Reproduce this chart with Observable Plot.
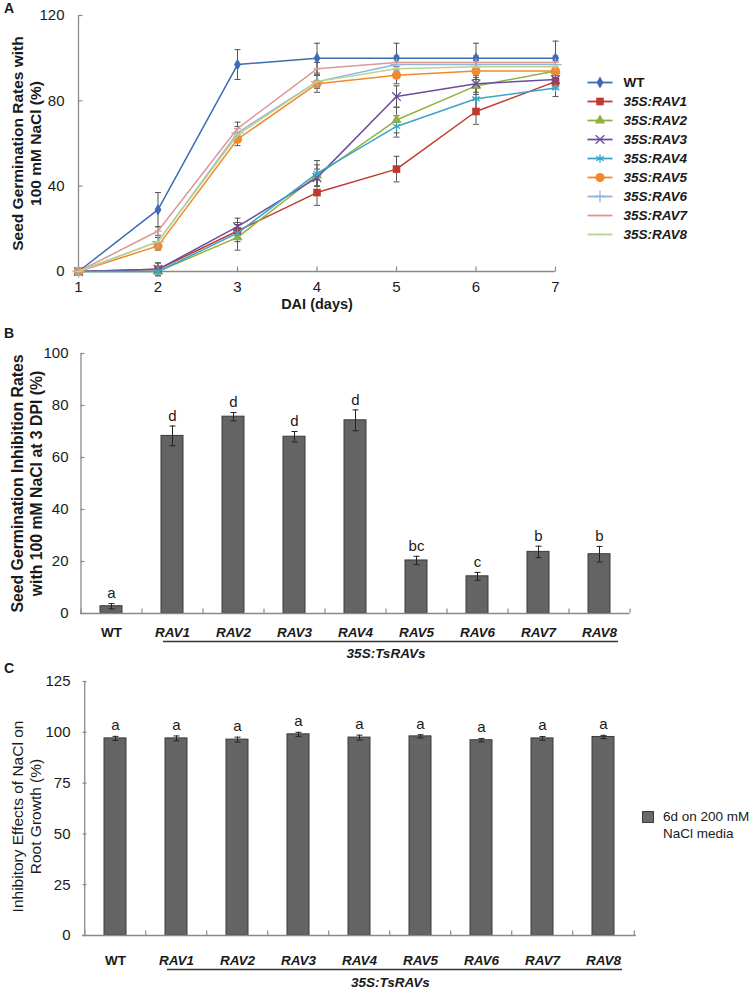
<!DOCTYPE html>
<html><head><meta charset="utf-8">
<script src="https://cdn.jsdelivr.net/npm/d3@7"></script>
<script src="https://cdn.jsdelivr.net/npm/@observablehq/plot@0.6"></script>
<style>
body{margin:0;background:#fff;font-family:"Liberation Sans",Arial,sans-serif;color:#1a1a1a;}
#root{position:relative;width:750px;height:990px;overflow:hidden;background:#fff;}
.panel{position:absolute;}
.letter{position:absolute;font-weight:bold;font-size:14px;}
.cleg{position:absolute;font-size:13.5px;line-height:17px;}
.cleg .sw{position:absolute;left:-21px;top:3px;width:10px;height:10px;background:#6a6a6a;border:1px solid #3a3a3a;}
</style></head><body><div id="root"></div>
<script>
// ---------- Panel A data ----------
const days = [1, 2, 3, 4, 5, 6, 7];
const seriesNames = ["WT", "35S:RAV1", "35S:RAV2", "35S:RAV3", "35S:RAV4", "35S:RAV5", "35S:RAV6", "35S:RAV7", "35S:RAV8"];
const valWT   = [0, 29, 97, 100, 100, 100, 100];
const valRAV1 = [0, 1, 19, 37, 48, 75, 89];
const valRAV2 = [0, 0, 16, 45, 71, 87, 94];
const valRAV3 = [0, 1, 21, 44, 82, 88, 90];
const valRAV4 = [0, 0, 18, 46, 68, 81, 86];
const valRAV5 = [0, 12, 62, 88, 92, 94, 94];
const valRAV6 = [0, 14, 65, 89, 97, 97, 97];
const valRAV7 = [0, 19, 67, 95, 98, 98, 98];
const valRAV8 = [0, 14, 64, 89, 95, 96, 96];
const errWT   = [0, 8, 7, 7, 7, 7, 8];
const errRAV1 = [0, 3, 4, 6, 6, 6, 3];
const errRAV2 = [0, 1, 6, 5, 6, 4, 3];
const errRAV3 = [0, 3, 4, 4, 5, 4, 3];
const errRAV4 = [0, 1, 4, 6, 5, 5, 4];
const errRAV5 = [0, 2, 3, 4, 4, 4, 3];
const errRAV6 = [0, 2, 3, 3, 3, 3, 3];
const errRAV7 = [0, 2, 3, 3, 3, 3, 3];
const errRAV8 = [0, 2, 3, 3, 3, 3, 3];
const yTicksA = [0, 40, 80, 120];

// ---------- Panel B data ----------
const categories = ["WT", "RAV1", "RAV2", "RAV3", "RAV4", "RAV5", "RAV6", "RAV7", "RAV8"];
const inhibB = [2.8, 68.3, 75.7, 68.0, 74.3, 20.4, 14.3, 23.7, 22.8];
const errB   = [1.0, 3.8, 1.6, 2.0, 4.0, 1.6, 1.5, 2.2, 3.0];
const lettersB = ["a", "d", "d", "d", "d", "bc", "c", "b", "b"];
const yTicksB = [0, 20, 40, 60, 80, 100];

// ---------- Panel C data ----------
const rootC = [97.0, 97.0, 96.4, 99.0, 97.4, 98.0, 96.1, 97.0, 97.7];
const errC  = [1.0, 1.2, 1.2, 1.0, 1.2, 0.8, 0.8, 0.9, 0.8];
const lettersC = ["a", "a", "a", "a", "a", "a", "a", "a", "a"];
const yTicksC = [0, 25, 50, 75, 100, 125];
const groupLabel = "35S:TsRAVs";

// ---------- styling ----------
const FONT = "Liberation Sans, Arial, sans-serif";
const AXIS = "#8a8a8a";
const colors = ["#3c6cb4", "#c0392f", "#8fb23f", "#6d4c9f", "#38a6c6", "#f28a2a", "#94b3de", "#dc9896", "#b9d48f"];
const dash = {draw(ctx) { ctx.moveTo(-3.5, 0); ctx.lineTo(3.5, 0); }};
const cap = {draw(ctx) { ctx.moveTo(-3, 0); ctx.lineTo(3, 0); }};
const tickRight = {draw(ctx) { ctx.moveTo(0, 0); ctx.lineTo(4, 0); }};
const tickUp = {draw(ctx) { ctx.moveTo(0, 0); ctx.lineTo(0, -5); }};
const markerSpec = [
  {symbol: "diamond", filled: true, r: 3.6},
  {symbol: "square", filled: true, r: 4.3},
  {symbol: "triangle", filled: true, r: 3.8},
  {symbol: "times", filled: false, r: 4},
  {symbol: "asterisk", filled: false, r: 4},
  {symbol: "circle", filled: true, r: 4.6},
  {symbol: "plus", filled: false, r: 4},
  {symbol: dash, filled: false, r: 3},
  {symbol: dash, filled: false, r: 3}
];
const allVals = [valWT, valRAV1, valRAV2, valRAV3, valRAV4, valRAV5, valRAV6, valRAV7, valRAV8];
const allErrs = [errWT, errRAV1, errRAV2, errRAV3, errRAV4, errRAV5, errRAV6, errRAV7, errRAV8];

const root = document.getElementById("root");
function place(el, left, top) {
  el.classList.add("panel");
  el.style.left = left + "px";
  el.style.top = top + "px";
  root.appendChild(el);
}
function letter(t, left, top) {
  const d = document.createElement("div");
  d.className = "letter"; d.textContent = t;
  d.style.left = left + "px"; d.style.top = top + "px";
  root.appendChild(d);
}

// ---------- Panel A ----------
const seriesMarks = [];
seriesNames.forEach((name, s) => {
  const rows = days.map((d, i) => ({day: d, value: allVals[s][i], err: allErrs[s][i]}));
  const withErr = rows.filter(r => r.err > 0);
  seriesMarks.push(
    Plot.ruleX(withErr, {x: "day", y1: r => r.value - r.err, y2: r => r.value + r.err, stroke: "#555", strokeWidth: 1}),
    Plot.dot(withErr, {x: "day", y: r => r.value - r.err, symbol: cap, stroke: "#555", strokeWidth: 1}),
    Plot.dot(withErr, {x: "day", y: r => r.value + r.err, symbol: cap, stroke: "#555", strokeWidth: 1})
  );
});
seriesNames.forEach((name, s) => {
  const rows = days.map((d, i) => ({day: d, value: allVals[s][i]}));
  const m = markerSpec[s];
  seriesMarks.push(
    Plot.line(rows, {x: "day", y: "value", stroke: colors[s], strokeWidth: 1.5}),
    m.filled
      ? Plot.dot(rows, {x: "day", y: "value", symbol: m.symbol, r: m.r, fill: colors[s]})
      : Plot.dot(rows, {x: "day", y: "value", symbol: m.symbol, r: m.r, stroke: colors[s], strokeWidth: 1.3})
  );
});

const plotA = Plot.plot({
  width: 565, height: 320,
  marginLeft: 78, marginRight: 10, marginTop: 15, marginBottom: 49,
  style: {fontFamily: FONT, fontSize: "15px", color: "#1a1a1a", background: "transparent"},
  x: {domain: [1, 7]},
  y: {domain: [0, 120]},
  marks: [
    Plot.axisX({ticks: days, tickFormat: "d", tickSize: 0, tickPadding: 10, label: null, fontSize: 15}),
    Plot.axisY({ticks: yTicksA, tickFormat: "d", tickSize: 0, tickPadding: 14, label: null, fontSize: 15}),
    Plot.ruleY([0], {stroke: AXIS, strokeWidth: 1.3}),
    Plot.ruleX([1], {stroke: AXIS, strokeWidth: 1.3}),
    Plot.dot(yTicksA, {y: d => d, frameAnchor: "left", symbol: tickRight, stroke: AXIS, strokeWidth: 1.2}),
    Plot.dot(days, {x: d => d, frameAnchor: "bottom", symbol: tickUp, stroke: AXIS, strokeWidth: 1.2}),
    ...seriesMarks,
    Plot.text(["DAI (days)"], {text: d => d, frameAnchor: "bottom", lineAnchor: "middle", textAnchor: "middle", dy: 33, fontWeight: "bold", fontSize: 14.5}),
    Plot.text(["Seed Germination Rates with\n100 mM NaCl (%)"], {text: d => d, frameAnchor: "left", textAnchor: "middle", lineAnchor: "middle", rotate: -90, dx: -52, fontWeight: "bold", fontSize: 15.5, lineHeight: 1.17})
  ]
});
place(plotA, 0, 0);

// legend A
const legendMarks = [];
seriesNames.forEach((name, s) => {
  const m = markerSpec[s];
  legendMarks.push(
    Plot.link([name], {x1: () => 0, x2: () => 1, y1: d => d, y2: d => d, stroke: colors[s], strokeWidth: 1.8}),
    m.filled
      ? Plot.dot([name], {x: () => 0.5, y: d => d, symbol: m.symbol, r: m.r, fill: colors[s]})
      : Plot.dot([name], {x: () => 0.5, y: d => d, symbol: m.symbol, r: m.r, stroke: colors[s], strokeWidth: 1.3})
  );
});
const legendA = Plot.plot({
  width: 170, height: 320, margin: 0,
  style: {fontFamily: FONT, fontSize: "13px", color: "#1a1a1a", background: "transparent"},
  x: {domain: [0, 1], range: [7, 32], axis: null},
  y: {type: "point", domain: seriesNames, range: [70, 245], axis: null},
  marks: [
    ...legendMarks,
    Plot.text(seriesNames.filter(n => n === "WT"), {x: () => 1, y: d => d, text: d => d, dx: 11, textAnchor: "start", fontWeight: "bold", fontSize: 13.5}),
    Plot.text(seriesNames.filter(n => n !== "WT"), {x: () => 1, y: d => d, text: d => d, dx: 11, textAnchor: "start", fontWeight: "bold", fontStyle: "italic", fontSize: 13.5})
  ]
});
place(legendA, 580, 0);

// ---------- bar panels ----------
function barPanel({values, errs, letters, yTicks, yMax, width, height, marginLeft, marginRight, marginTop, marginBottom, label, labelBold, labelSize, labelDx, labelDy, catDy, lineDy, groupDy, letterDy}) {
  const rows = categories.map((c, i) => ({cat: c, value: values[i], err: errs[i], letter: letters[i]}));
  const step = (width - marginLeft - marginRight) / categories.length;
  const bottomText = {frameAnchor: "bottom", lineAnchor: "middle", textAnchor: "middle"};
  return Plot.plot({
    width, height, marginLeft, marginRight, marginTop, marginBottom,
    style: {fontFamily: FONT, fontSize: "15px", color: "#1a1a1a", background: "transparent"},
    x: {type: "band", domain: categories, paddingInner: 0.64, paddingOuter: 0.32, axis: null},
    y: {domain: [0, yMax]},
    marks: [
      Plot.axisY({ticks: yTicks, tickFormat: "d", tickSize: 0, tickPadding: 12, label: null, fontSize: 15}),
      Plot.barY(rows, {x: "cat", y: "value", fill: "#646464", stroke: "#3a3a3a", strokeWidth: 1}),
      Plot.ruleX(rows, {x: "cat", y1: r => r.value - r.err, y2: r => r.value + r.err, stroke: "#222", strokeWidth: 1}),
      Plot.dot(rows, {x: "cat", y: r => r.value - r.err, symbol: cap, stroke: "#222", strokeWidth: 1}),
      Plot.dot(rows, {x: "cat", y: r => r.value + r.err, symbol: cap, stroke: "#222", strokeWidth: 1}),
      Plot.text(rows, {x: "cat", y: r => r.value + r.err, text: "letter", dy: letterDy, fontSize: 15}),
      Plot.ruleY([0], {stroke: AXIS, strokeWidth: 1.3}),
      Plot.ruleX([categories[0]], {x: d => d, dx: -step / 2, stroke: AXIS, strokeWidth: 1.3}),
      Plot.dot(yTicks, {y: d => d, frameAnchor: "left", symbol: tickRight, stroke: AXIS, strokeWidth: 1.2}),
      Plot.dot(categories, {x: d => d, frameAnchor: "bottom", dx: -step / 2, symbol: tickUp, stroke: AXIS, strokeWidth: 1.2}),
      Plot.dot([categories[categories.length - 1]], {x: d => d, frameAnchor: "bottom", dx: step / 2, symbol: tickUp, stroke: AXIS, strokeWidth: 1.2}),
      Plot.text(categories.filter(c => c === "WT"), {x: d => d, text: d => d, ...bottomText, dy: catDy, fontWeight: "bold", fontSize: 13.5}),
      Plot.text(categories.filter(c => c !== "WT"), {x: d => d, text: d => d, ...bottomText, dy: catDy, fontWeight: "bold", fontStyle: "italic", fontSize: 13.5}),
      Plot.ruleY([0], {x1: () => categories[1], x2: () => categories[categories.length - 1], dy: lineDy, stroke: "#333", strokeWidth: 1.3, insetLeft: 2, insetRight: -8}),
      Plot.text([groupLabel], {x: () => categories[4], text: d => d, ...bottomText, dx: step / 2, dy: groupDy, fontWeight: "bold", fontStyle: "italic", fontSize: 13.5}),
      Plot.text([label], {text: d => d, frameAnchor: "left", textAnchor: "middle", lineAnchor: "middle", rotate: -90, dx: labelDx, dy: labelDy, fontWeight: labelBold ? "bold" : "normal", fontSize: labelSize, lineHeight: 1.17})
    ]
  });
}

const plotB = barPanel({
  values: inhibB, errs: errB, letters: lettersB, yTicks: yTicksB, yMax: 100,
  width: 640, height: 340, marginLeft: 80, marginRight: 11, marginTop: 23, marginBottom: 57,
  label: "Seed Germination Inhibition Rates\nwith 100 mM NaCl at 3 DPI (%)", labelBold: true, labelSize: 15.8, labelDx: -54, labelDy: 0,
  catDy: 19, lineDy: 28, groupDy: 40, letterDy: -10
});
place(plotB, 0, 330);

const plotC = barPanel({
  values: rootC, errs: errC, letters: lettersC, yTicks: yTicksC, yMax: 125,
  width: 650, height: 325, marginLeft: 82, marginRight: 14, marginTop: 16, marginBottom: 55,
  label: "Inhibitory Effects of NaCl on\nRoot Growth (%)", labelBold: false, labelSize: 15.5, labelDx: -56, labelDy: 8,
  catDy: 25, lineDy: 34, groupDy: 47, letterDy: -11
});
place(plotC, 0, 665);

// legend C
const cl = document.createElement("div");
cl.className = "cleg";
cl.style.left = "663px"; cl.style.top = "808px";
cl.innerHTML = '<span class="sw"></span>6d on 200 mM<br>NaCl media';
root.appendChild(cl);

letter("A", 4, 0);
letter("B", 4, 325);
letter("C", 4, 660);
</script></body></html>
